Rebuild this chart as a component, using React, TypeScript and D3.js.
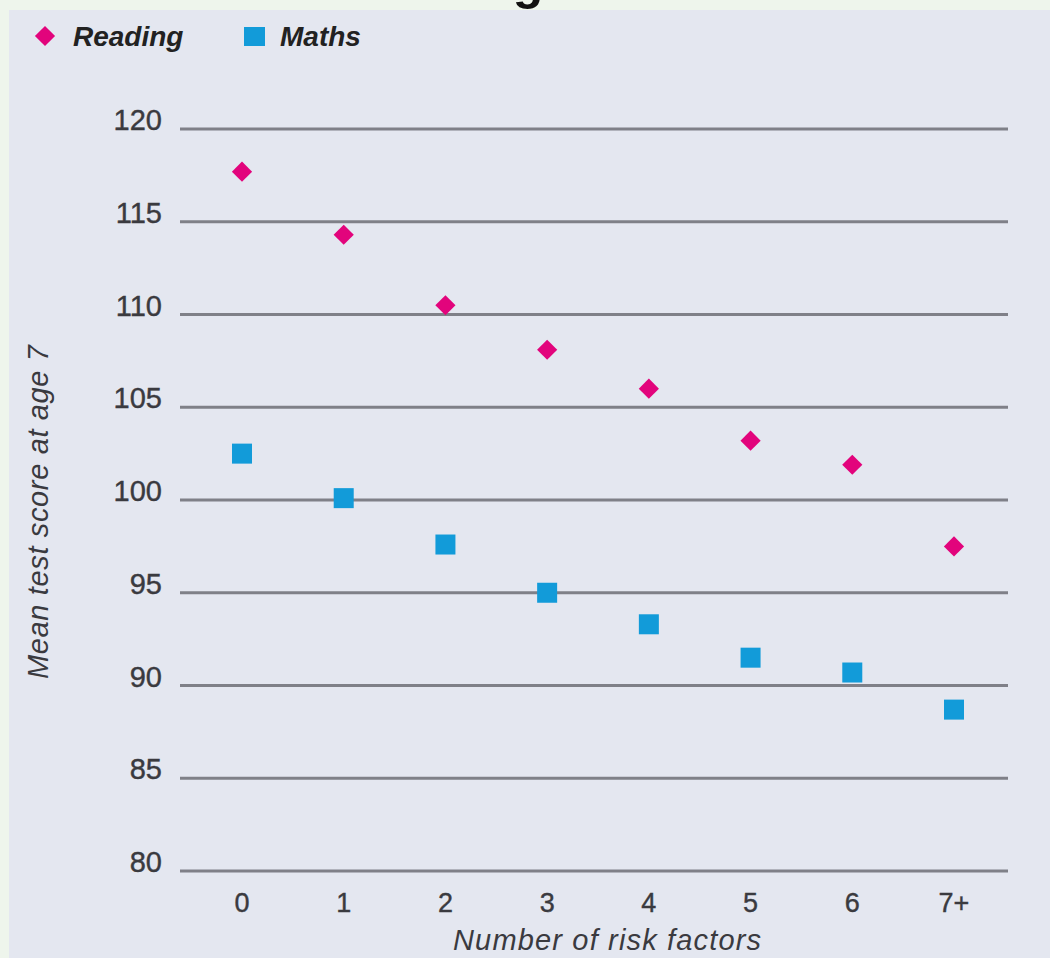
import React from "react";
import * as d3 from "d3";

const categories = ["0", "1", "2", "3", "4", "5", "6", "7+"];
const readingValues = [117.7, 114.3, 110.5, 108.1, 106.0, 103.2, 101.9, 97.5];
const mathsValues = [102.5, 100.1, 97.6, 95.0, 93.3, 91.5, 90.7, 88.7];
const yTicks = [80, 85, 90, 95, 100, 105, 110, 115, 120];

const W = 1050;
const H = 958;
const PINK = "#e2047c";
const BLUE = "#129bd9";
const TXT = "#3a3a3f";
const FONT = "'Liberation Sans', Arial, sans-serif";

export default function App() {
  const x = d3.scalePoint<string>().domain(categories).range([242, 954]);
  const y = d3.scaleLinear().domain([80, 120]).range([871, 129]);
  const diamond = d3.symbol().type(d3.symbolDiamond2).size(260)();
  const SQ = 20;

  return (
    <svg width={W} height={H} style={{ position: "absolute", left: 0, top: 0 }}>
      <rect x={0} y={0} width={W} height={H} fill="#eef5ec" />
      <text x={528} y={-1} textAnchor="middle" fontFamily={FONT} fontWeight="bold" fontSize={50} fill="#111">g</text>
      <rect x={9} y={10} width={W - 9} height={H - 10} fill="#e4e7f0" />

      {/* legend */}
      <g>
        <path d={diamond!} transform="translate(45,36)" fill={PINK} />
        <text x={73} y={46} fontFamily={FONT} fontWeight="bold" fontStyle="italic" fontSize={28} fill="#222">Reading</text>
        <rect x={244} y={27} width={21} height={19} fill={BLUE} />
        <text x={280} y={46} fontFamily={FONT} fontWeight="bold" fontStyle="italic" fontSize={28} fill="#222">Maths</text>
      </g>

      {/* grid + y labels */}
      {yTicks.map((t) => (
        <g key={t}>
          <line x1={180} x2={1008} y1={y(t)} y2={y(t)} stroke="#7f8088" strokeWidth={3} />
          <text x={162} y={y(t) + 1} textAnchor="end" fontFamily={FONT} fontSize={29} fill={TXT} stroke={TXT} strokeWidth={0.4}>{t}</text>
        </g>
      ))}

      {/* x labels */}
      {categories.map((c) => (
        <text key={c} x={x(c)} y={912} textAnchor="middle" fontFamily={FONT} fontSize={27} fill={TXT} stroke={TXT} strokeWidth={0.4}>{c}</text>
      ))}

      {/* axis titles */}
      <text x={607} y={950} textAnchor="middle" fontFamily={FONT} fontStyle="italic" fontSize={29} fill={TXT} textLength={308}>Number of risk factors</text>
      <text transform="translate(48,512) rotate(-90)" textAnchor="middle" fontFamily={FONT} fontStyle="italic" fontSize={29} fill={TXT} textLength={334}>Mean test score at age 7</text>

      {/* points */}
      {readingValues.map((v, i) => (
        <path key={"r" + i} d={diamond!} transform={`translate(${x(categories[i])},${y(v)})`} fill={PINK} />
      ))}
      {mathsValues.map((v, i) => (
        <rect key={"m" + i} x={x(categories[i])! - SQ / 2} y={y(v) - SQ / 2} width={SQ} height={SQ} fill={BLUE} />
      ))}
    </svg>
  );
}
